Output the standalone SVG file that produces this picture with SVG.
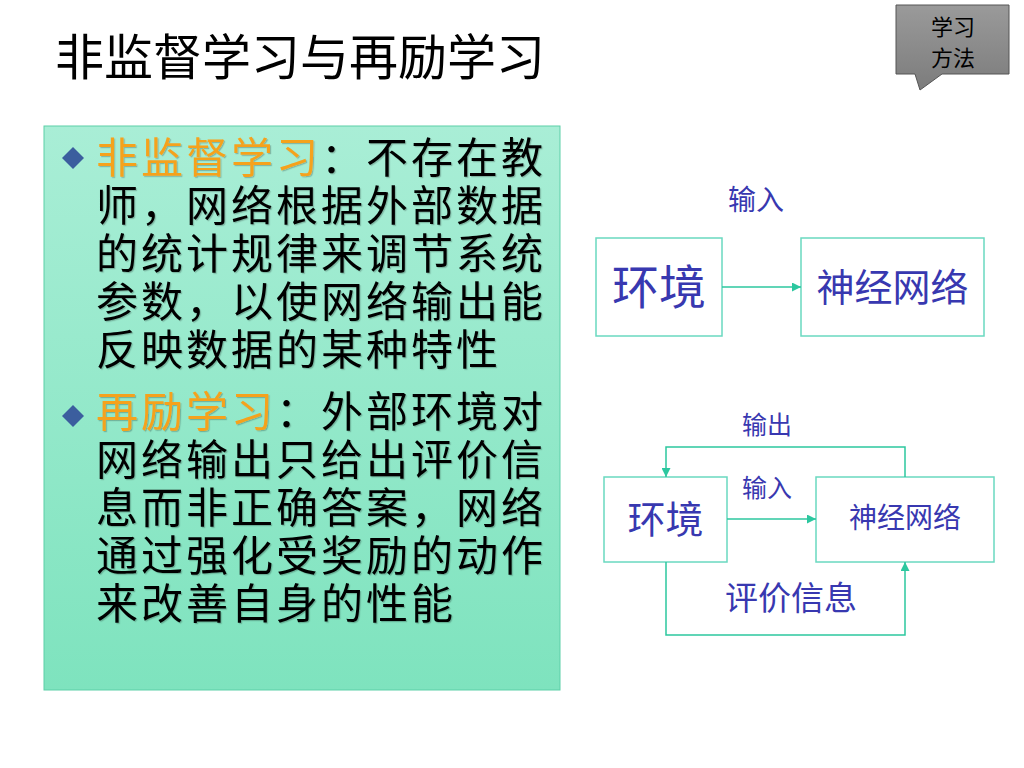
<svg xmlns="http://www.w3.org/2000/svg" width="1024" height="768" viewBox="0 0 1024 768">
<defs>
<linearGradient id="panelGrad" x1="0" y1="0" x2="0" y2="1">
<stop offset="0" stop-color="#a9eed6"/>
<stop offset="1" stop-color="#7ee3be"/>
</linearGradient>
<linearGradient id="calloutGrad" x1="0" y1="0" x2="0" y2="1">
<stop offset="0" stop-color="#9a9a9a"/>
<stop offset="1" stop-color="#7c7c7c"/>
</linearGradient>
<filter id="shadow" x="-5%" y="-5%" width="110%" height="110%">
<feDropShadow dx="1.2" dy="1.2" stdDeviation="0.3" flood-color="#000" flood-opacity="0.22"/>
</filter>
<marker id="arrow" viewBox="0 0 10 10" refX="10" refY="5" markerWidth="9" markerHeight="9" markerUnits="userSpaceOnUse" orient="auto">
<path d="M0,0 L10,5 L0,10 Z" fill="#2cc79f"/>
</marker>
<style>
text { font-family: "Noto Sans CJK SC", "Noto Sans", sans-serif; }
.title { font-size: 49px; fill: #000; }
.body { font-family: "Liberation Sans", "Noto Sans CJK SC", sans-serif; font-size: 42px; letter-spacing: 3px; fill: #000; }
.hl { fill: #f5a21e; }
.box { fill: #fff; stroke: #6ad9c0; stroke-width: 1.5; }
.lbl { fill: #3838b0; }
.conn { fill: none; stroke: #2cc79f; stroke-width: 1.5; }
.bullet { fill: #3b5e9e; }
</style>
</defs>
<rect width="1024" height="768" fill="#fff"/>

<g id="title">
<text class="title" x="55" y="75">非监督学习与再励学习</text>
</g>

<g id="callout">
<path d="M896,5 H1009 V74 H942 L920,90 L915,74 H896 Z" fill="url(#calloutGrad)" stroke="#555" stroke-width="1"/>
<text x="953" y="35" font-size="22" text-anchor="middle" fill="#000">学习</text>
<text x="953" y="66" font-size="22" text-anchor="middle" fill="#000">方法</text>
</g>

<g id="panel">
<rect x="44" y="126" width="516" height="564" fill="url(#panelGrad)" stroke="#5ccfa8" stroke-width="1"/>
<path class="bullet" d="M62,158 L73,147 L84,158 L73,169 Z"/>
<path class="bullet" d="M62,416 L73,405 L84,416 L73,427 Z"/>
<text class="body" filter="url(#shadow)"><tspan x="96" y="173"><tspan class="hl">非监督学习</tspan>：不存在教</tspan><tspan x="96" y="221">师，网络根据外部数据</tspan><tspan x="96" y="269">的统计规律来调节系统</tspan><tspan x="96" y="317">参数，以使网络输出能</tspan><tspan x="96" y="365">反映数据的某种特性</tspan><tspan x="96" y="427"><tspan class="hl">再励学习</tspan>：外部环境对</tspan><tspan x="96" y="475">网络输出只给出评价信</tspan><tspan x="96" y="523">息而非正确答案，网络</tspan><tspan x="96" y="571">通过强化受奖励的动作</tspan><tspan x="96" y="619">来改善自身的性能</tspan></text>
</g>

<g id="d1-env">
<rect class="box" x="596" y="238" width="126" height="98"/>
<text class="lbl" x="659" y="304" font-size="47" text-anchor="middle">环境</text>
</g>
<g id="d1-nn">
<rect class="box" x="801" y="238" width="183" height="98"/>
<text class="lbl" x="892.5" y="301" font-size="38" text-anchor="middle">神经网络</text>
</g>

<g id="d2-env">
<rect class="box" x="604" y="477" width="123" height="85"/>
<text class="lbl" x="665.5" y="533" font-size="38" text-anchor="middle">环境</text>
</g>
<g id="d2-nn">
<rect class="box" x="816" y="477" width="178" height="85"/>
<text class="lbl" x="905" y="528" font-size="28" text-anchor="middle">神经网络</text>
</g>

<g id="connectors">
<line class="conn" x1="722" y1="287" x2="801" y2="287" marker-end="url(#arrow)"/>
<text class="lbl" x="756" y="210" font-size="28" text-anchor="middle">输入</text>

<line class="conn" x1="727" y1="519" x2="816" y2="519" marker-end="url(#arrow)"/>
<text class="lbl" x="767" y="497" font-size="25" text-anchor="middle">输入</text>

<path class="conn" d="M905,477 V447 H666 V477" marker-end="url(#arrow)"/>
<text class="lbl" x="767" y="434" font-size="25" text-anchor="middle">输出</text>

<path class="conn" d="M666,562 V635 H905 V562" marker-end="url(#arrow)"/>
<text class="lbl" x="791" y="610" font-size="33" text-anchor="middle">评价信息</text>
</g>
</svg>
